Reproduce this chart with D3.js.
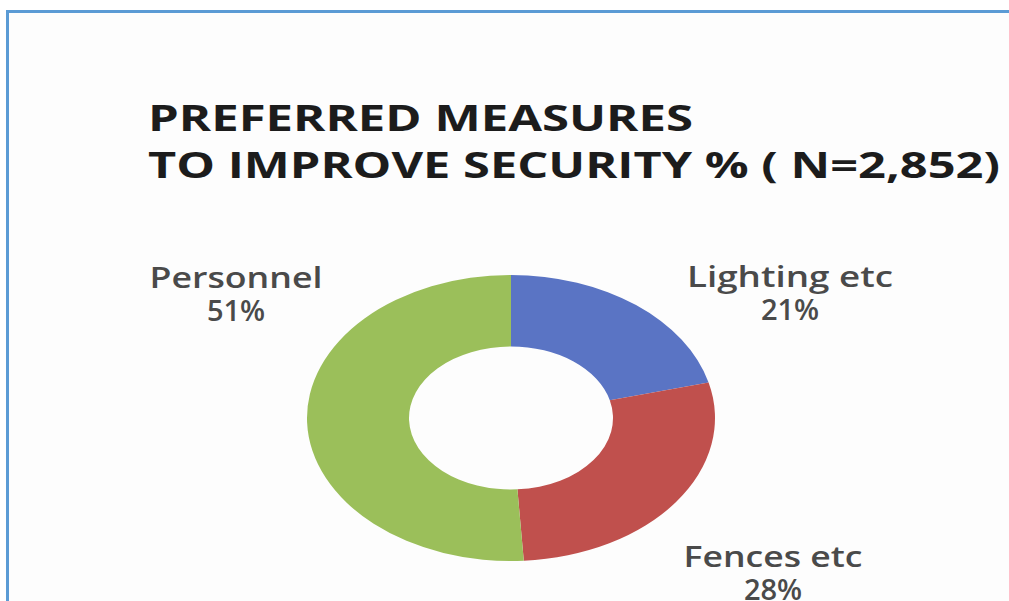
<!DOCTYPE html>
<html>
<head>
<meta charset="utf-8">
<script src="https://cdn.jsdelivr.net/npm/d3@7"></script>
<style>
  html, body { margin: 0; padding: 0; background: #fff; }
  svg { display: block; }
  .title { font-family: "Open Sans", sans-serif; font-weight: 700; fill: #1c1c1c; }
  .label { font-family: "Open Sans", sans-serif; font-weight: 600; fill: #4a4a4a; }
</style>
</head>
<body>
<div id="chart"></div>
<script>
const WIDTH = 1009,
      HEIGHT = 601,
      CX = 511,
      CY = 418,
      RY = 143,
      RX = 204,
      HOLE = 0.5,
      LABEL_SIZE = 29,
      LABEL_GAP = 33;

const categories = ["Lighting etc", "Fences etc", "Personnel"];
const values = [21, 28, 51];
const colors = ["#5A74C4", "#C0504D", "#9BBF5A"];
const titleLines = ["PREFERRED MEASURES", "TO IMPROVE SECURITY % ( N=2,852)"];

// where each label block sits, relative to the donut centre
const labelOffsets = {
  "Lighting etc": [279, -131],
  "Fences etc": [262, 149],
  "Personnel": [-275, -130]
};
const labelWidths = {"Lighting etc": 206, "Fences etc": 179, "Personnel": 173};

let svg = d3.select("#chart")
  .append("svg")
  .attr("width", WIDTH)
  .attr("height", HEIGHT);

svg.append("rect")
  .attr("x", 0).attr("y", 0)
  .attr("width", WIDTH).attr("height", HEIGHT)
  .attr("fill", "#fff");

// frame: only the top and left edges show in the crop
svg.append("rect")
  .attr("x", 7.5).attr("y", 11.5)
  .attr("width", WIDTH).attr("height", HEIGHT)
  .attr("fill", "#fdfdfd")
  .attr("stroke", "#5B9BD5")
  .attr("stroke-width", 3);

// title
let titleWidths = [545, 852];
svg.append("g")
  .selectAll("text")
  .data(titleLines)
  .join("text")
  .attr("class", "title")
  .attr("x", 148)
  .attr("y", (d, i) => 131 + i * 47)
  .attr("font-size", 35)
  .attr("textLength", (d, i) => titleWidths[i])
  .attr("lengthAdjust", "spacingAndGlyphs")
  .text(d => d);

// donut, drawn as a circle and stretched into an ellipse
let pie = d3.pie().sort(null).value(d => d.value);
let arc = d3.arc().innerRadius(RY * HOLE).outerRadius(RY);

let slices = categories.map((c, i) => ({name: c, value: values[i], color: colors[i]}));

svg.append("g")
  .attr("transform", "translate(" + CX + "," + CY + ") scale(" + (RX / RY) + ",1)")
  .selectAll("path")
  .data(pie(slices))
  .join("path")
  .attr("d", arc)
  .attr("fill", d => d.data.color);

// labels
let labels = svg.append("g")
  .selectAll("g")
  .data(slices)
  .join("g")
  .attr("transform", d => {
    let o = labelOffsets[d.name];
    return "translate(" + (CX + o[0]) + "," + (CY + o[1]) + ")";
  });

labels.append("text")
  .attr("class", "label")
  .attr("text-anchor", "middle")
  .attr("font-size", LABEL_SIZE)
  .attr("y", 0)
  .attr("textLength", d => labelWidths[d.name])
  .attr("lengthAdjust", "spacingAndGlyphs")
  .text(d => d.name);

labels.append("text")
  .attr("class", "label")
  .attr("text-anchor", "middle")
  .attr("font-size", LABEL_SIZE)
  .attr("y", LABEL_GAP)
  .text(d => d.value + "%");
</script>
</body>
</html>
